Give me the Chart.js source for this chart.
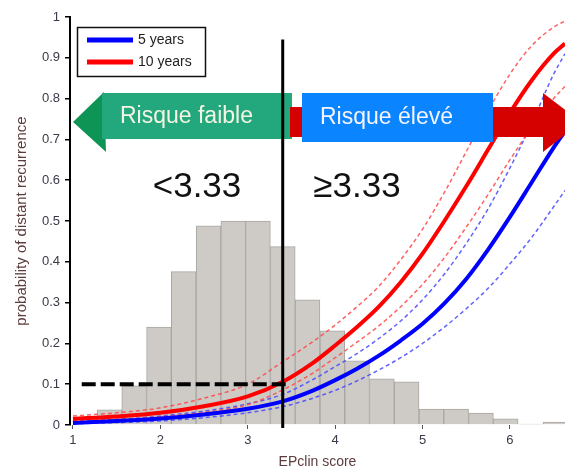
<!DOCTYPE html>
<html><head><meta charset="utf-8">
<script src="https://cdn.jsdelivr.net/npm/chart.js@4.4.1/dist/chart.umd.min.js"></script>
<style>html,body{margin:0;padding:0;background:#fff;}#wrap{width:565px;height:471px;}</style>
</head><body><div id="wrap"><canvas id="c" width="565" height="471"></canvas></div>
<script>
// ---- data ----
const binCenters = [1.417,1.700,1.984,2.267,2.551,2.834,3.117,3.401,3.684,3.968,4.251,4.535,4.818,5.102,5.385,5.669,5.952,6.236,6.519];
const binHeights = [0.037,0.096,0.240,0.376,0.488,0.500,0.500,0.437,0.307,0.231,0.157,0.113,0.106,0.039,0.039,0.029,0.015,0.002,0.007];

const curveX     = [1.0,1.5,2.0,2.5,3.0,3.4,3.75,4.0,4.25,4.5,4.75,5.0,5.25,5.5,5.75,6.0,6.25,6.5,6.63];
const tenYear    = [0.015,0.021,0.030,0.046,0.070,0.106,0.153,0.195,0.240,0.290,0.350,0.420,0.500,0.585,0.675,0.765,0.845,0.910,0.935];
const tenYearHi  = [0.022,0.030,0.042,0.066,0.100,0.155,0.205,0.245,0.290,0.340,0.405,0.480,0.570,0.670,0.770,0.860,0.930,0.975,0.990];
const tenYearLo  = [0.010,0.014,0.020,0.031,0.050,0.086,0.128,0.165,0.203,0.243,0.290,0.345,0.410,0.485,0.565,0.650,0.730,0.800,0.830];
const fiveYear   = [0.005,0.010,0.016,0.026,0.040,0.058,0.085,0.110,0.138,0.170,0.207,0.248,0.298,0.358,0.430,0.510,0.595,0.680,0.720];
const fiveYearHi = [0.008,0.013,0.022,0.034,0.052,0.075,0.112,0.143,0.175,0.212,0.255,0.307,0.370,0.445,0.530,0.630,0.740,0.860,0.910];
const fiveYearLo = [0.003,0.006,0.010,0.018,0.030,0.045,0.066,0.085,0.108,0.135,0.165,0.200,0.240,0.285,0.335,0.395,0.460,0.535,0.575];

const seriesNames = ['5 years','10 years'];
const xTickValues = [1,2,3,4,5,6];
const yTickValues = [0,0.1,0.2,0.3,0.4,0.5,0.6,0.7,0.8,0.9,1];
const xTitle = 'EPclin score';
const yTitle = 'probability of distant recurrence';

const cutoffX = 3.4;        // vertical threshold line position
const cutoffTop = 0.945;
const riskY = 0.1;          // horizontal dashed line
const riskYStart = 1.1;
const riskYEnd = 3.45;
const lowLabel = 'Risque faible';
const highLabel = 'Risque élevé';
const lowText = '<3.33';
const highText = '≥3.33';

const FAM = '"Liberation Sans", Arial, sans-serif';
const pts = arr => curveX.map((x,i)=>({x:x, y:arr[i]}));

const deco = {
  id:'deco',
  afterDatasetsDraw(chart){
    const ctx = chart.ctx, xs = chart.scales.x, ys = chart.scales.y;
    ctx.save();
    // green arrow (left)
    ctx.fillStyle = '#0e9556';
    ctx.beginPath(); ctx.moveTo(73,122); ctx.lineTo(104,92); ctx.lineTo(106,152); ctx.closePath(); ctx.fill();
    ctx.fillStyle = '#22a87c';
    ctx.fillRect(102,93,190,46);
    // red arrow (right)
    ctx.fillStyle = '#d50000';
    ctx.fillRect(290,107,255,30);
    ctx.beginPath(); ctx.moveTo(543,93); ctx.lineTo(581,122); ctx.lineTo(543,152); ctx.closePath(); ctx.fill();
    // blue box
    ctx.fillStyle = '#0a84ff';
    ctx.fillRect(302,93,191,49);
    ctx.font = '23px ' + FAM;
    ctx.textBaseline = 'alphabetic'; ctx.textAlign = 'left';
    ctx.fillStyle = '#f4f4e4';
    ctx.fillText(lowLabel, 120, 123);
    ctx.fillStyle = '#f4f4ff';
    ctx.fillText(highLabel, 320, 124);

    // threshold lines
    const vx = xs.getPixelForValue(cutoffX);
    ctx.strokeStyle = '#000';
    ctx.lineWidth = 3;
    ctx.beginPath(); ctx.moveTo(vx, ys.getPixelForValue(cutoffTop)); ctx.lineTo(vx, ys.getPixelForValue(0)+3); ctx.stroke();
    ctx.lineWidth = 4;
    ctx.setLineDash([14,5]);
    const hy = ys.getPixelForValue(riskY);
    ctx.beginPath(); ctx.moveTo(xs.getPixelForValue(riskYStart), hy); ctx.lineTo(xs.getPixelForValue(riskYEnd), hy); ctx.stroke();
    ctx.setLineDash([]);

    // big labels
    ctx.fillStyle = '#111';
    ctx.font = '35px ' + FAM;
    ctx.textAlign = 'center'; ctx.textBaseline = 'middle';
    ctx.fillText(lowText, 197, 187);
    ctx.fillText(highText, 357, 187);

    // legend
    ctx.fillStyle = '#fff';
    ctx.fillRect(77,27,128,49);
    ctx.strokeStyle = '#111'; ctx.lineWidth = 1.5;
    ctx.strokeRect(77.5,27.5,128,49);
    ctx.lineWidth = 5;
    ctx.strokeStyle = '#0000ff';
    ctx.beginPath(); ctx.moveTo(87,40); ctx.lineTo(133,40); ctx.stroke();
    ctx.strokeStyle = '#ff0000';
    ctx.beginPath(); ctx.moveTo(87,62); ctx.lineTo(133,62); ctx.stroke();
    ctx.fillStyle = '#222';
    ctx.font = '14px ' + FAM;
    ctx.textAlign = 'left'; ctx.textBaseline = 'middle';
    ctx.fillText(seriesNames[0], 138, 40);
    ctx.fillText(seriesNames[1], 138, 62);
    ctx.restore();
  }
};

const lineDs = (arr, color, w, dash, ord) => ({
  type:'line', data:pts(arr), borderColor:color, borderWidth:w, borderDash:dash,
  pointRadius:0, fill:false, tension:0.4, cubicInterpolationMode:'monotone', order:ord
});

new Chart(document.getElementById('c'), {
  type:'bar',
  data:{
    datasets:[
      lineDs(tenYear,'#ff0000',4,[],1),
      lineDs(fiveYear,'#0000ff',4,[],2),
      lineDs(tenYearHi,'rgba(255,70,70,0.85)',1.5,[4,3],3),
      lineDs(tenYearLo,'rgba(255,70,70,0.85)',1.5,[4,3],3),
      lineDs(fiveYearHi,'rgba(70,70,255,0.85)',1.5,[4,3],3),
      lineDs(fiveYearLo,'rgba(70,70,255,0.85)',1.5,[4,3],3),
      {type:'bar', data:binCenters.map((c,i)=>({x:c,y:binHeights[i]})),
       backgroundColor:'#cecbc7', borderColor:'#a9a6a2', borderWidth:1,
       barPercentage:1, categoryPercentage:1, order:10}
    ]
  },
  options:{
    responsive:false, animation:false, devicePixelRatio:1,
    layout:{padding:{top:17,right:0,left:0,bottom:0}},
    plugins:{legend:{display:false}, tooltip:{enabled:false}},
    scales:{
      x:{type:'linear', min:0.966, max:6.63, offset:false,
        afterBuildTicks:s=>{s.ticks = xTickValues.map(v=>({value:v}));},
        afterFit:s=>{s.height = 46;},
        grid:{display:true, drawOnChartArea:false, drawTicks:true, tickLength:4, color:'#555', lineWidth:1, offset:false},
        border:{display:false},
        ticks:{font:{size:13,family:FAM}, color:'#3a3a4a', padding:4, maxRotation:0, autoSkip:false, callback:v=>String(v)},
        title:{display:true, text:xTitle, font:{size:14,family:FAM}, color:'#5c3c3c', padding:{top:0,bottom:0}}
      },
      y:{min:0, max:1,
        afterBuildTicks:s=>{s.ticks = yTickValues.map(v=>({value:v}));},
        afterFit:s=>{s.width = 70;},
        grid:{display:true, drawOnChartArea:false, drawTicks:true, tickLength:5, color:'#000', lineWidth:1.5},
        border:{display:true, color:'#000', width:2},
        ticks:{font:{size:13,family:FAM}, color:'#3a3a4a', padding:5, autoSkip:false, callback:v=>String(v)},
        title:{display:true, text:yTitle, font:{size:15,family:FAM}, color:'#5c3c3c', padding:{top:13,bottom:0}}
      }
    }
  },
  plugins:[deco]
});
</script></body></html>
